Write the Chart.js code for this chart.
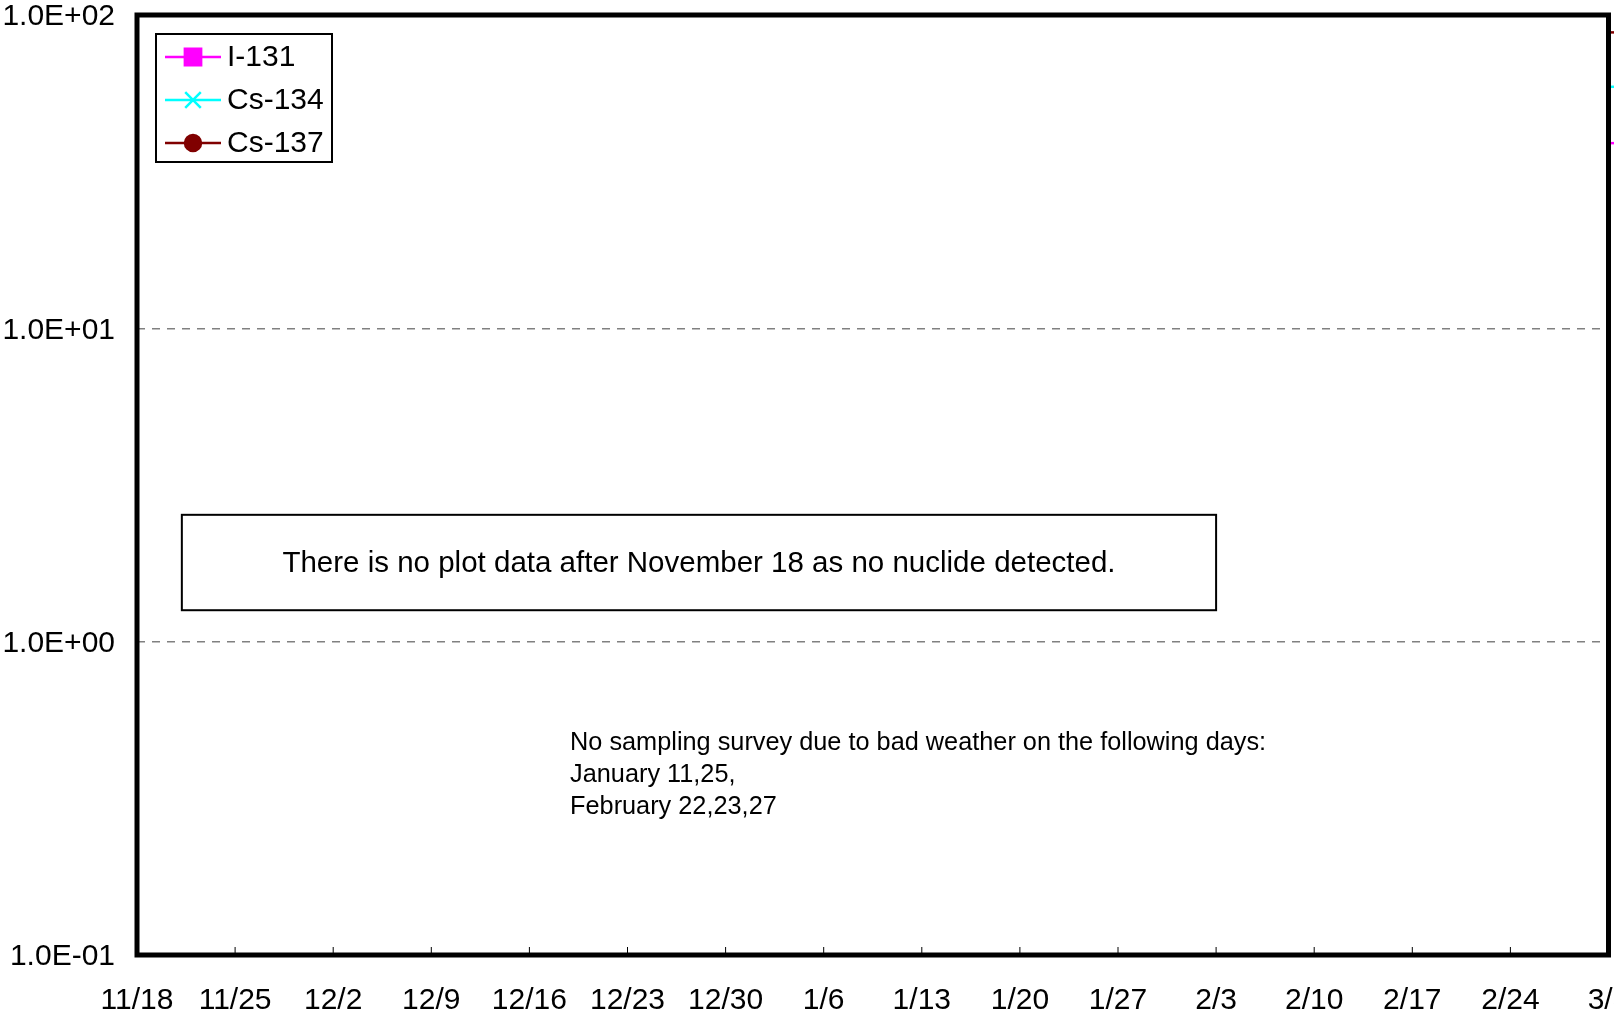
<!DOCTYPE html>
<html>
<head>
<meta charset="utf-8">
<script src="https://cdn.jsdelivr.net/npm/chart.js@4.4.1/dist/chart.umd.min.js"></script>
<style>
  html, body { margin: 0; padding: 0; background: #fff; overflow: hidden; }
  #wrap { width: 1640px; height: 1017px; }
</style>
</head>
<body>
<div id="wrap"><canvas id="grafico"></canvas></div>
<script>
// eje x: dias contados desde 11/18
const xTickDays = [0, 7, 14, 21, 28, 35, 42, 49, 56, 63, 70, 77, 84, 91, 98, 105];
const xTickLabels = ['11/18', '11/25', '12/2', '12/9', '12/16', '12/23', '12/30', '1/6',
    '1/13', '1/20', '1/27', '2/3', '2/10', '2/17', '2/24', '3/3'];
const yTickValues = [0.1, 1, 10, 100];
const yTickLabels = ['1.0E-01', '1.0E+00', '1.0E+01', '1.0E+02'];

const seriesNames = ['I-131', 'Cs-134', 'Cs-137'];
const seriesColors = ['#ff00ff', '#00ffff', '#800000'];
const seriesMarkers = ['rect', 'crossRot', 'circle'];

// solo se ven trozos en el borde derecho (despues de 3/3)
const edgeDays = [105, 106];
const i131Values = [39, 39];
const cs134Values = [59, 59];
const cs137Values = [88, 88];

const noteText = 'There is no plot data after November 18 as no nuclide detected.';
const weatherLines = ['No sampling survey due to bad weather on the following days:',
    'January 11,25,', 'February 22,23,27'];

const FONT = '"Liberation Sans", Arial, Helvetica, sans-serif';
Chart.defaults.font.family = FONT;
Chart.defaults.color = '#000';

const toPoints = (vals) => vals.map((v, i) => ({ x: edgeDays[i], y: v }));
const allValues = [i131Values, cs134Values, cs137Values];

const datasets = seriesNames.map((name, i) => ({
    label: name,
    data: toPoints(allValues[i]),
    borderColor: seriesColors[i],
    backgroundColor: seriesColors[i],
    pointStyle: seriesMarkers[i],
    pointRadius: 0,
    borderWidth: 2.5,
    clip: false,
}));

// sin padding extra de las etiquetas, el area la fija layout.padding
const noPad = (scale) => {
    scale.paddingTop = 0;
    scale.paddingBottom = 0;
    scale.paddingLeft = 0;
    scale.paddingRight = 0;
};

// marco negro + marcas de los ticks del eje x
const framePlugin = {
    id: 'frame',
    afterDatasetsDraw(chart) {
        const { ctx, chartArea: a, scales } = chart;
        ctx.save();
        ctx.strokeStyle = '#000';
        ctx.lineWidth = 1;
        scales.x.ticks.forEach((t) => {
            const px = scales.x.getPixelForValue(t.value);
            ctx.beginPath();
            ctx.moveTo(px, a.bottom);
            ctx.lineTo(px, a.bottom - 8);
            ctx.stroke();
        });
        ctx.lineWidth = 5;
        ctx.strokeRect(a.left, a.top, a.right - a.left, a.bottom - a.top);
        ctx.restore();
    }
};

const legendPlugin = {
    id: 'boxLegend',
    afterDraw(chart) {
        const { ctx, chartArea: a } = chart;
        const x0 = a.left + 19, y0 = a.top + 19;
        ctx.save();
        ctx.strokeStyle = '#000';
        ctx.lineWidth = 2;
        ctx.strokeRect(x0, y0, 176, 128);
        ctx.font = '30px ' + FONT;
        ctx.textBaseline = 'middle';
        ctx.textAlign = 'left';
        chart.data.datasets.forEach((ds, i) => {
            const cy = y0 + 23 + i * 43;
            ctx.strokeStyle = ds.borderColor;
            ctx.fillStyle = ds.borderColor;
            ctx.lineWidth = 2.5;
            ctx.beginPath();
            ctx.moveTo(x0 + 9, cy);
            ctx.lineTo(x0 + 65, cy);
            ctx.stroke();
            const r = ds.pointStyle === 'rect' ? 11.5 : (ds.pointStyle === 'crossRot' ? 11 : 8);
            Chart.helpers.drawPoint(ctx, { pointStyle: ds.pointStyle, radius: r, rotation: 0, borderWidth: 2.5 }, x0 + 37, cy);
            if (ds.pointStyle !== 'crossRot') ctx.fill();
            ctx.fillStyle = '#000';
            ctx.fillText(ds.label, x0 + 71, cy + 1);
        });
        ctx.restore();
    }
};

const notesPlugin = {
    id: 'notes',
    afterDraw(chart) {
        const { ctx, scales: { x, y } } = chart;
        ctx.save();
        const bx1 = x.getPixelForValue(3.2), bx2 = x.getPixelForValue(77);
        const by1 = y.getPixelForValue(2.54), by2 = y.getPixelForValue(1.26);
        ctx.strokeStyle = '#000';
        ctx.lineWidth = 2;
        ctx.strokeRect(bx1, by1, bx2 - bx1, by2 - by1);
        ctx.font = '29.5px ' + FONT;
        ctx.textAlign = 'center';
        ctx.textBaseline = 'middle';
        ctx.fillStyle = '#000';
        ctx.fillText(noteText, (bx1 + bx2) / 2, y.getPixelForValue(1.8) + 2);
        ctx.font = '25.3px ' + FONT;
        ctx.textAlign = 'left';
        const tx = x.getPixelForValue(30.9);
        const lineVals = [0.482, 0.381, 0.301];
        weatherLines.forEach((s, i) => ctx.fillText(s, tx, y.getPixelForValue(lineVals[i]) + 2));
        ctx.restore();
    }
};

const ctx1 = document.getElementById('grafico').getContext('2d');
new Chart(ctx1, {
    type: 'line',
    data: { datasets: datasets },
    options: {
        responsive: true,
        maintainAspectRatio: false,
        animation: false,
        layout: { padding: { top: 15, right: 31.5, left: 0, bottom: 0 } },
        plugins: { legend: { display: false }, tooltip: { enabled: false } },
        scales: {
            x: {
                type: 'linear',
                min: 0,
                max: 105,
                afterBuildTicks: (axis) => { axis.ticks = xTickDays.map((d) => ({ value: d })); },
                afterFit: (scale) => { scale.height = 62; noPad(scale); },
                grid: { display: false },
                border: { display: false },
                ticks: {
                    autoSkip: false,
                    maxRotation: 0,
                    padding: 20,
                    font: { size: 30 },
                    callback: (v, i) => xTickLabels[i],
                },
            },
            y: {
                type: 'logarithmic',
                min: 0.1,
                max: 100,
                afterBuildTicks: (axis) => { axis.ticks = yTickValues.map((v) => ({ value: v })); },
                afterFit: (scale) => { scale.width = 137; noPad(scale); },
                grid: {
                    drawTicks: false,
                    lineWidth: 1.5,
                    color: (c) => (c.tick && (c.tick.value === 1 || c.tick.value === 10)) ? '#808080' : 'rgba(0,0,0,0)',
                },
                border: { display: false, dash: [8, 7] },
                ticks: {
                    padding: 22,
                    labelOffset: 2,
                    font: { size: 30, lineHeight: 1 },
                    callback: (v, i) => yTickLabels[i],
                },
            },
        },
    },
    plugins: [framePlugin, legendPlugin, notesPlugin],
});
</script>
</body>
</html>
